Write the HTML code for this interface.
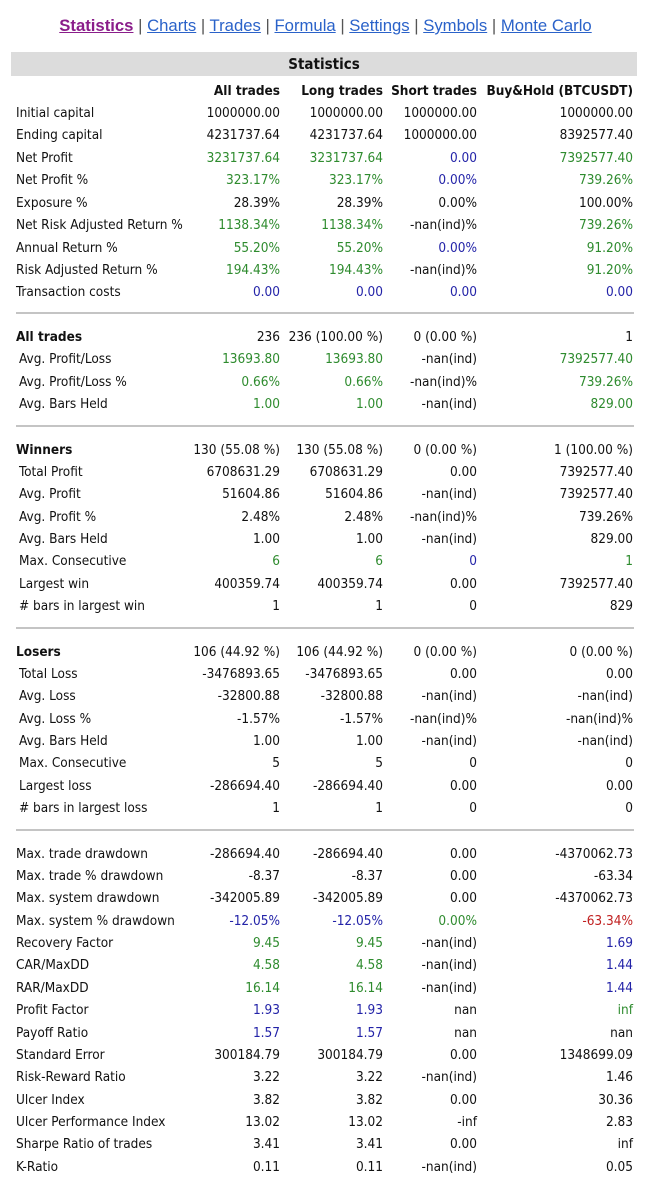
<!DOCTYPE html>
<html><head><meta charset="utf-8"><style>
body{margin:0;width:651px;height:1200px;background:#fff;position:relative;overflow:hidden;font-family:"DejaVu Sans Condensed","Liberation Sans",sans-serif;font-size:13.5px;color:#111}
.nav{position:absolute;top:16px;left:0;width:651px;text-align:center;font-size:16.7px;color:#555;font-family:"Liberation Sans",sans-serif}
.nav a{color:#2a62c9;text-decoration:underline}
.nav a.s{color:#8a1d8a;font-weight:bold}
.hd{position:absolute;left:11px;top:52px;width:626px;height:24px;background:#dcdcdc;text-align:center;font-weight:bold;line-height:24px;font-size:15px}
.r{position:absolute;left:0;width:651px;height:22px;line-height:22px;white-space:nowrap;margin-top:1px}
.r span{position:absolute;top:0}
.l{left:16px}.i .l{left:19px}
.a{right:371px}.b{right:268px}.c{right:174px}.d{right:18px}
.h{font-weight:bold}
.g{color:#2e8b2e}.u{color:#2323a8}.x{color:#c02020}
.sep{position:absolute;left:16px;width:618px;height:2px;background:#c4c4c4}
</style></head><body>
<div class="nav"><a class="s">Statistics</a> | <a>Charts</a> | <a>Trades</a> | <a>Formula</a> | <a>Settings</a> | <a>Symbols</a> | <a>Monte Carlo</a></div>
<div class="hd">Statistics</div>

<div class="r h" style="top:79px"><span class="a">All trades</span><span class="b">Long trades</span><span class="c">Short trades</span><span class="d">Buy&amp;Hold (BTCUSDT)</span></div>
<div class="r" style="top:101px"><span class="l">Initial capital</span><span class="a">1000000.00</span><span class="b">1000000.00</span><span class="c">1000000.00</span><span class="d">1000000.00</span></div>
<div class="r" style="top:123px"><span class="l">Ending capital</span><span class="a">4231737.64</span><span class="b">4231737.64</span><span class="c">1000000.00</span><span class="d">8392577.40</span></div>
<div class="r" style="top:146px"><span class="l">Net Profit</span><span class="a g">3231737.64</span><span class="b g">3231737.64</span><span class="c u">0.00</span><span class="d g">7392577.40</span></div>
<div class="r" style="top:168px"><span class="l">Net Profit %</span><span class="a g">323.17%</span><span class="b g">323.17%</span><span class="c u">0.00%</span><span class="d g">739.26%</span></div>
<div class="r" style="top:191px"><span class="l">Exposure %</span><span class="a">28.39%</span><span class="b">28.39%</span><span class="c">0.00%</span><span class="d">100.00%</span></div>
<div class="r" style="top:213px"><span class="l">Net Risk Adjusted Return %</span><span class="a g">1138.34%</span><span class="b g">1138.34%</span><span class="c">-nan(ind)%</span><span class="d g">739.26%</span></div>
<div class="r" style="top:236px"><span class="l">Annual Return %</span><span class="a g">55.20%</span><span class="b g">55.20%</span><span class="c u">0.00%</span><span class="d g">91.20%</span></div>
<div class="r" style="top:258px"><span class="l">Risk Adjusted Return %</span><span class="a g">194.43%</span><span class="b g">194.43%</span><span class="c">-nan(ind)%</span><span class="d g">91.20%</span></div>
<div class="r" style="top:280px"><span class="l">Transaction costs</span><span class="a u">0.00</span><span class="b u">0.00</span><span class="c u">0.00</span><span class="d u">0.00</span></div>
<div class="sep" style="top:312px"></div>

<div class="r" style="top:325px"><span class="l h">All trades</span><span class="a">236</span><span class="b">236 (100.00 %)</span><span class="c">0 (0.00 %)</span><span class="d">1</span></div>
<div class="r i" style="top:347px"><span class="l">Avg. Profit/Loss</span><span class="a g">13693.80</span><span class="b g">13693.80</span><span class="c">-nan(ind)</span><span class="d g">7392577.40</span></div>
<div class="r i" style="top:370px"><span class="l">Avg. Profit/Loss %</span><span class="a g">0.66%</span><span class="b g">0.66%</span><span class="c">-nan(ind)%</span><span class="d g">739.26%</span></div>
<div class="r i" style="top:392px"><span class="l">Avg. Bars Held</span><span class="a g">1.00</span><span class="b g">1.00</span><span class="c">-nan(ind)</span><span class="d g">829.00</span></div>
<div class="sep" style="top:425px"></div>

<div class="r" style="top:438px"><span class="l h">Winners</span><span class="a">130 (55.08 %)</span><span class="b">130 (55.08 %)</span><span class="c">0 (0.00 %)</span><span class="d">1 (100.00 %)</span></div>
<div class="r i" style="top:460px"><span class="l">Total Profit</span><span class="a">6708631.29</span><span class="b">6708631.29</span><span class="c">0.00</span><span class="d">7392577.40</span></div>
<div class="r i" style="top:482px"><span class="l">Avg. Profit</span><span class="a">51604.86</span><span class="b">51604.86</span><span class="c">-nan(ind)</span><span class="d">7392577.40</span></div>
<div class="r i" style="top:505px"><span class="l">Avg. Profit %</span><span class="a">2.48%</span><span class="b">2.48%</span><span class="c">-nan(ind)%</span><span class="d">739.26%</span></div>
<div class="r i" style="top:527px"><span class="l">Avg. Bars Held</span><span class="a">1.00</span><span class="b">1.00</span><span class="c">-nan(ind)</span><span class="d">829.00</span></div>
<div class="r i" style="top:549px"><span class="l">Max. Consecutive</span><span class="a g">6</span><span class="b g">6</span><span class="c u">0</span><span class="d g">1</span></div>
<div class="r i" style="top:572px"><span class="l">Largest win</span><span class="a">400359.74</span><span class="b">400359.74</span><span class="c">0.00</span><span class="d">7392577.40</span></div>
<div class="r i" style="top:594px"><span class="l">#&nbsp;bars in largest win</span><span class="a">1</span><span class="b">1</span><span class="c">0</span><span class="d">829</span></div>
<div class="sep" style="top:627px"></div>

<div class="r" style="top:640px"><span class="l h">Losers</span><span class="a">106 (44.92 %)</span><span class="b">106 (44.92 %)</span><span class="c">0 (0.00 %)</span><span class="d">0 (0.00 %)</span></div>
<div class="r i" style="top:662px"><span class="l">Total Loss</span><span class="a">-3476893.65</span><span class="b">-3476893.65</span><span class="c">0.00</span><span class="d">0.00</span></div>
<div class="r i" style="top:684px"><span class="l">Avg. Loss</span><span class="a">-32800.88</span><span class="b">-32800.88</span><span class="c">-nan(ind)</span><span class="d">-nan(ind)</span></div>
<div class="r i" style="top:707px"><span class="l">Avg. Loss %</span><span class="a">-1.57%</span><span class="b">-1.57%</span><span class="c">-nan(ind)%</span><span class="d">-nan(ind)%</span></div>
<div class="r i" style="top:729px"><span class="l">Avg. Bars Held</span><span class="a">1.00</span><span class="b">1.00</span><span class="c">-nan(ind)</span><span class="d">-nan(ind)</span></div>
<div class="r i" style="top:751px"><span class="l">Max. Consecutive</span><span class="a">5</span><span class="b">5</span><span class="c">0</span><span class="d">0</span></div>
<div class="r i" style="top:774px"><span class="l">Largest loss</span><span class="a">-286694.40</span><span class="b">-286694.40</span><span class="c">0.00</span><span class="d">0.00</span></div>
<div class="r i" style="top:796px"><span class="l">#&nbsp;bars in largest loss</span><span class="a">1</span><span class="b">1</span><span class="c">0</span><span class="d">0</span></div>
<div class="sep" style="top:829px"></div>

<div class="r" style="top:842px"><span class="l">Max. trade drawdown</span><span class="a">-286694.40</span><span class="b">-286694.40</span><span class="c">0.00</span><span class="d">-4370062.73</span></div>
<div class="r" style="top:864px"><span class="l">Max. trade % drawdown</span><span class="a">-8.37</span><span class="b">-8.37</span><span class="c">0.00</span><span class="d">-63.34</span></div>
<div class="r" style="top:886px"><span class="l">Max. system drawdown</span><span class="a">-342005.89</span><span class="b">-342005.89</span><span class="c">0.00</span><span class="d">-4370062.73</span></div>
<div class="r" style="top:909px"><span class="l">Max. system % drawdown</span><span class="a u">-12.05%</span><span class="b u">-12.05%</span><span class="c g">0.00%</span><span class="d x">-63.34%</span></div>
<div class="r" style="top:931px"><span class="l">Recovery Factor</span><span class="a g">9.45</span><span class="b g">9.45</span><span class="c">-nan(ind)</span><span class="d u">1.69</span></div>
<div class="r" style="top:953px"><span class="l">CAR/MaxDD</span><span class="a g">4.58</span><span class="b g">4.58</span><span class="c">-nan(ind)</span><span class="d u">1.44</span></div>
<div class="r" style="top:976px"><span class="l">RAR/MaxDD</span><span class="a g">16.14</span><span class="b g">16.14</span><span class="c">-nan(ind)</span><span class="d u">1.44</span></div>
<div class="r" style="top:998px"><span class="l">Profit Factor</span><span class="a u">1.93</span><span class="b u">1.93</span><span class="c">nan</span><span class="d g">inf</span></div>
<div class="r" style="top:1021px"><span class="l">Payoff Ratio</span><span class="a u">1.57</span><span class="b u">1.57</span><span class="c">nan</span><span class="d">nan</span></div>
<div class="r" style="top:1043px"><span class="l">Standard Error</span><span class="a">300184.79</span><span class="b">300184.79</span><span class="c">0.00</span><span class="d">1348699.09</span></div>
<div class="r" style="top:1065px"><span class="l">Risk-Reward Ratio</span><span class="a">3.22</span><span class="b">3.22</span><span class="c">-nan(ind)</span><span class="d">1.46</span></div>
<div class="r" style="top:1088px"><span class="l">Ulcer Index</span><span class="a">3.82</span><span class="b">3.82</span><span class="c">0.00</span><span class="d">30.36</span></div>
<div class="r" style="top:1110px"><span class="l">Ulcer Performance Index</span><span class="a">13.02</span><span class="b">13.02</span><span class="c">-inf</span><span class="d">2.83</span></div>
<div class="r" style="top:1132px"><span class="l">Sharpe Ratio of trades</span><span class="a">3.41</span><span class="b">3.41</span><span class="c">0.00</span><span class="d">inf</span></div>
<div class="r" style="top:1155px"><span class="l">K-Ratio</span><span class="a">0.11</span><span class="b">0.11</span><span class="c">-nan(ind)</span><span class="d">0.05</span></div>
</body></html>
